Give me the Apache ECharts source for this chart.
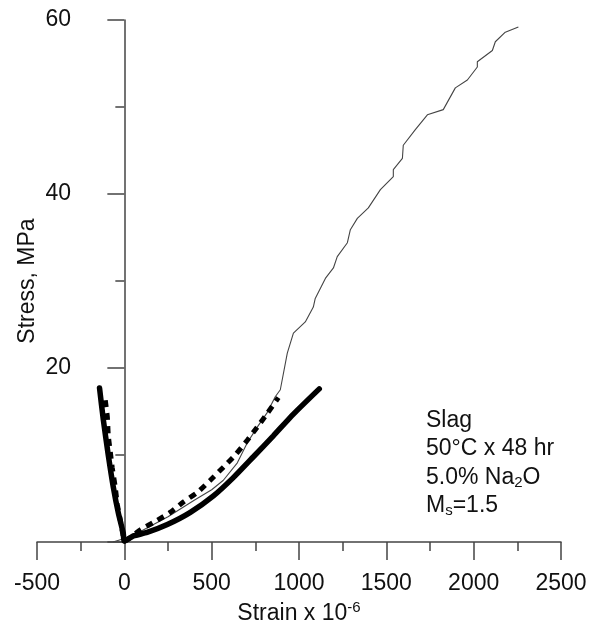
<!DOCTYPE html>
<html>
<head>
<meta charset="utf-8">
<script src="https://cdn.jsdelivr.net/npm/echarts@6/dist/echarts.min.js"></script>
<style>
  html, body { margin: 0; padding: 0; background: #fff; }
  #chart { width: 590px; height: 626px; }
</style>
</head>
<body>
<div id="chart"></div>
<script>
// thick solid curve (lateral branch on the left, axial on the right)
const solidStrain = [-142, -120, -92, -63, -34, -6, 0, 52, 130, 246, 378, 510, 624, 739, 853, 968, 1116];
const solidStress = [17.7, 14.0, 10.0, 6.3, 3.3, 1.0, 0.1, 0.7, 1.1, 2.0, 3.4, 5.3, 7.4, 9.8, 12.2, 14.7, 17.6];

// thick dashed curve
const dashStrain = [-109, -97, -92, -80, -69, -52, -40, -23, -8, 0, 92, 189, 263, 338, 418, 492, 567, 635, 704, 761, 819, 882];
const dashStress = [16.3, 14.3, 12.3, 10.3, 8.5, 6.3, 4.3, 2.5, 0.8, 0.1, 1.4, 2.5, 3.4, 4.6, 5.7, 7.1, 8.6, 10.0, 11.7, 13.2, 14.8, 16.6];

// thin curve
const thinStrain = [-65, 0, 100, 250, 400, 500, 567, 647, 704, 761, 819, 864, 893, 933, 968, 1036, 1082, 1093, 1151, 1197, 1219, 1277, 1294, 1334, 1397, 1466, 1540, 1540, 1592, 1597, 1666, 1735, 1826, 1895, 1964, 2021, 2021, 2107, 2124, 2181, 2256];
const thinStress = [0, 0.4, 1.3, 2.9, 4.8, 6.0, 7.1, 9.1, 11.4, 13.2, 14.9, 16.7, 17.5, 21.7, 24.0, 25.3, 27.0, 28.0, 30.3, 31.5, 32.8, 34.4, 35.9, 37.2, 38.4, 40.5, 42.0, 42.8, 44.1, 45.6, 47.4, 49.1, 49.7, 52.2, 53.1, 54.6, 55.2, 56.5, 57.5, 58.6, 59.2];

const yLabels = [20, 40, 60];
const noteLines = ['Slag', '50°C x 48 hr', '5.0% Na{sub|2}O', 'M{sub|s}=1.5'];

const zip = (xs, ys) => xs.map((x, i) => [x, ys[i]]);

const FONT = 'Liberation Sans, Arial, sans-serif';
const axisColor = '#444';

const chart = echarts.init(document.getElementById('chart'));

const option = {
  animation: false,
  grid: { left: 37, right: 29, top: 20, bottom: 84, outerBoundsMode: 'none', containLabel: false },
  xAxis: {
    type: 'value',
    min: -500,
    max: 2500,
    interval: 500,
    name: 'Strain x 10{sup|-6}',
    nameLocation: 'middle',
    nameGap: 52,
    nameTextStyle: {
      fontFamily: FONT, fontSize: 23, color: '#111',
      rich: { sup: { fontFamily: FONT, fontSize: 15, color: '#111', verticalAlign: 'top', padding: [0, 0, 12, 0] } }
    },
    axisLine: { show: true, onZero: false, lineStyle: { color: axisColor, width: 1.5 } },
    axisTick: { show: true, length: 18, lineStyle: { color: axisColor, width: 1.5 } },
    minorTick: { show: true, splitNumber: 2, length: 9, lineStyle: { color: axisColor, width: 1.5 } },
    axisLabel: { margin: 30, fontFamily: FONT, fontSize: 23, color: '#111', formatter: v => String(v) },
    splitLine: { show: false }
  },
  yAxis: {
    type: 'value',
    min: 0,
    max: 60,
    interval: 20,
    name: 'Stress, MPa',
    nameLocation: 'middle',
    nameGap: -2,
    nameMoveOverlap: false,
    nameTextStyle: { fontFamily: FONT, fontSize: 23, color: '#111' },
    axisLine: { show: true, onZero: true, lineStyle: { color: axisColor, width: 1.5 } },
    axisTick: { show: true, length: 17, lineStyle: { color: axisColor, width: 1.5 } },
    minorTick: { show: true, splitNumber: 2, length: 9, lineStyle: { color: axisColor, width: 1.5 } },
    axisLabel: {
      margin: -34, fontFamily: FONT, fontSize: 23, color: '#111',
      formatter: v => (yLabels.includes(v) ? String(v) : '')
    },
    splitLine: { show: false }
  },
  series: [
    {
      name: 'thin',
      type: 'line',
      data: zip(thinStrain, thinStress),
      symbol: 'none',
      lineStyle: { color: '#444', width: 1.1 },
      z: 3
    },
    {
      name: 'solid',
      type: 'line',
      data: zip(solidStrain, solidStress),
      symbol: 'none',
      smooth: 0.2,
      lineStyle: { color: '#000', width: 5.5, cap: 'round' },
      z: 4
    },
    {
      name: 'dashed',
      type: 'line',
      data: zip(dashStrain, dashStress),
      symbol: 'none',
      smooth: 0.2,
      lineStyle: { color: '#000', width: 5, type: [7, 6] },
      z: 5
    }
  ],
  graphic: noteLines.map((t, i) => ({
    type: 'text',
    left: 426,
    top: 409 + i * 28.5,
    style: {
      text: t,
      fontFamily: FONT,
      fontSize: 23,
      fill: '#111',
      rich: {
        sub: { fontFamily: FONT, fontSize: 15, fill: '#111', verticalAlign: 'bottom', padding: [10, 0, 0, 0] }
      }
    }
  }))
};

chart.setOption(option);
</script>
</body>
</html>
